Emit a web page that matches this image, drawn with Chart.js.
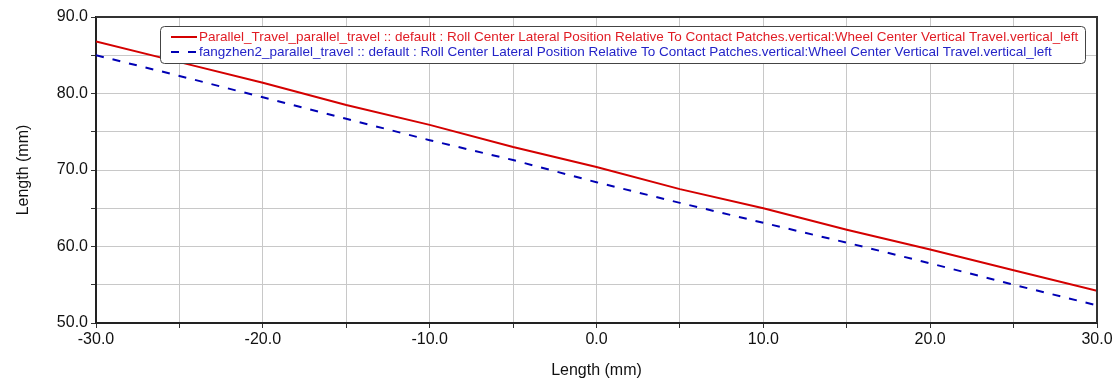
<!DOCTYPE html>
<html>
<head>
<meta charset="utf-8">
<script src="https://cdn.jsdelivr.net/npm/chart.js@4.4.1/dist/chart.umd.min.js"></script>
<style>
    html, body { margin: 0; padding: 0; background: #fff; }
    #wrap { width: 1120px; height: 380px; }
</style>
</head>
<body>
<div id="wrap"><canvas id="chart" width="1120" height="380"></canvas></div>
<script>
    var travel = [-30, -25, -20, -15, -10, -5, 0, 5, 10, 15, 20, 25, 30];
    var parallelTravel = [86.8, 84.1, 81.4, 78.5, 75.9, 73.0, 70.4, 67.5, 65.0, 62.2, 59.6, 56.9, 54.2];
    var fangzhenTravel = [85.0, 82.3, 79.5, 76.7, 73.9, 71.3, 68.4, 65.7, 63.1, 60.5, 57.8, 55.0, 52.3];
    var seriesLabels = [
        'Parallel_Travel_parallel_travel :: default : Roll Center Lateral Position Relative To Contact Patches.vertical:Wheel Center Vertical Travel.vertical_left',
        'fangzhen2_parallel_travel :: default : Roll Center Lateral Position Relative To Contact Patches.vertical:Wheel Center Vertical Travel.vertical_left'
    ];
    var axisTitle = 'Length (mm)';

    var FONT = '"Liberation Sans", Arial, sans-serif';

    function toPoints(xs, ys) {
        return xs.map(function (x, i) {
            return { x: x, y: ys[i] };
        });
    }

    function majorLabel(value) {
        return value % 10 === 0 ? value.toFixed(1) : '';
    }

    // frame on top/right plus the boxed legend
    var framePlugin = {
        id: 'frame',
        afterDraw: function (chart) {
            var ctx = chart.ctx;
            var a = chart.chartArea;
            ctx.save();
            ctx.strokeStyle = '#333';
            ctx.lineWidth = 2;
            ctx.beginPath();
            ctx.moveTo(a.left, a.top);
            ctx.lineTo(a.right, a.top);
            ctx.lineTo(a.right, a.bottom);
            ctx.stroke();

            var bx = 160, by = 26, bw = 925, bh = 37, r = 4;
            ctx.fillStyle = '#fff';
            ctx.strokeStyle = '#444';
            ctx.lineWidth = 1;
            ctx.beginPath();
            ctx.roundRect(bx + 0.5, by + 0.5, bw, bh, r);
            ctx.fill();
            ctx.stroke();

            ctx.font = '13.5px ' + FONT;
            ctx.textBaseline = 'middle';
            chart.data.datasets.forEach(function (ds, i) {
                var y = by + 11 + i * 15;
                ctx.strokeStyle = ds.borderColor;
                ctx.lineWidth = 2;
                ctx.setLineDash(ds.borderDash || []);
                ctx.beginPath();
                ctx.moveTo(171, y);
                ctx.lineTo(197, y);
                ctx.stroke();
                ctx.setLineDash([]);
                ctx.fillStyle = ds.legendText;
                ctx.fillText(ds.label, 199, y);
            });
            ctx.restore();
        }
    };

    new Chart(document.getElementById('chart'), {
        type: 'line',
        data: {
            datasets: [
                {
                    label: seriesLabels[0],
                    data: toPoints(travel, parallelTravel),
                    borderColor: '#d40000',
                    legendText: '#e01c24',
                    borderWidth: 2,
                    pointRadius: 0,
                    tension: 0
                },
                {
                    label: seriesLabels[1],
                    data: toPoints(travel, fangzhenTravel),
                    borderColor: '#0000b4',
                    legendText: '#2424c8',
                    borderWidth: 2,
                    borderDash: [8, 9],
                    pointRadius: 0,
                    tension: 0
                }
            ]
        },
        options: {
            responsive: false,
            animation: false,
            layout: { padding: { left: 0, right: 23, top: 17, bottom: 0 } },
            plugins: {
                legend: { display: false },
                tooltip: { enabled: false }
            },
            scales: {
                x: {
                    type: 'linear',
                    min: -30,
                    max: 30,
                    afterFit: function (scale) { scale.height = 57; },
                    ticks: {
                        stepSize: 5,
                        autoSkip: false,
                        maxRotation: 0,
                        padding: 2,
                        color: '#111',
                        font: { family: FONT, size: 16 },
                        callback: majorLabel
                    },
                    grid: { color: '#c8c8c8', tickColor: '#333', tickLength: 5, lineWidth: 1 },
                    border: { color: '#222', width: 2 },
                    title: {
                        display: true,
                        text: axisTitle,
                        color: '#111',
                        font: { family: FONT, size: 16 },
                        padding: { top: 8, bottom: 0 }
                    }
                },
                y: {
                    min: 50,
                    max: 90,
                    afterFit: function (scale) { scale.width = 96; },
                    ticks: {
                        stepSize: 5,
                        autoSkip: false,
                        padding: 3,
                        color: '#111',
                        font: { family: FONT, size: 16 },
                        callback: majorLabel
                    },
                    grid: { color: '#c8c8c8', tickColor: '#333', tickLength: 5, lineWidth: 1 },
                    border: { color: '#222', width: 2 },
                    title: {
                        display: true,
                        text: axisTitle,
                        color: '#111',
                        font: { family: FONT, size: 16 },
                        padding: { top: 14, bottom: 0 }
                    }
                }
            }
        },
        plugins: [framePlugin]
    });
</script>
</body>
</html>
